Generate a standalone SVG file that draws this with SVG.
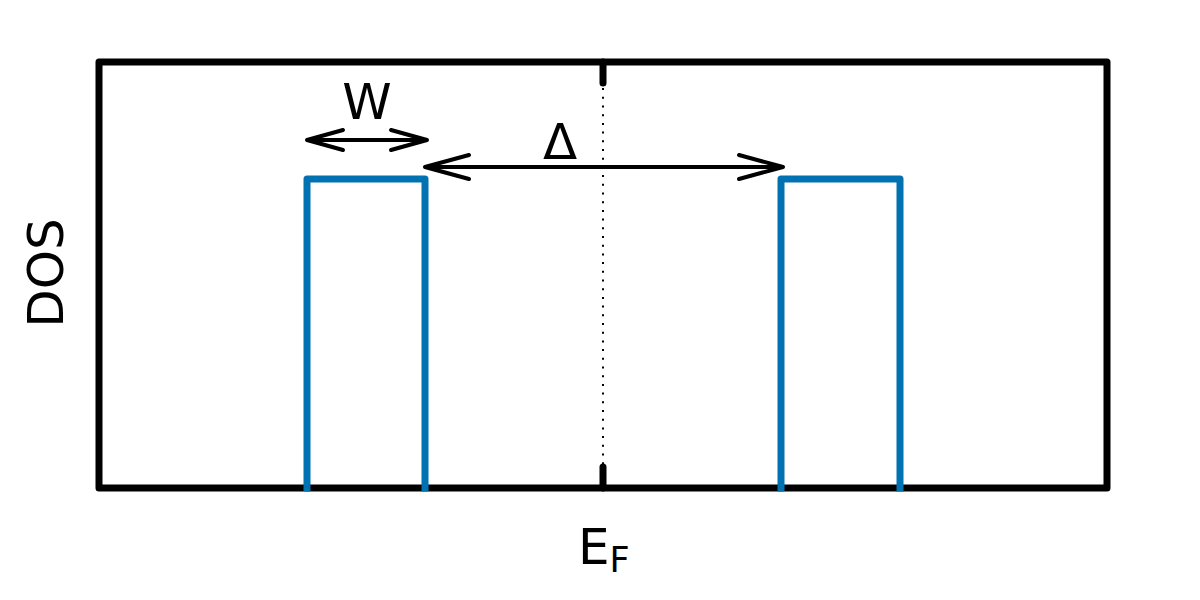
<svg xmlns="http://www.w3.org/2000/svg" width="1200" height="600" viewBox="0 0 1200 600">
<style>
.ax{fill:none;stroke:#000;stroke-width:7;stroke-linejoin:round;stroke-linecap:round}
.band{fill:none;stroke:#0072B2;stroke-width:7;stroke-linejoin:round;stroke-linecap:square}
.arr{fill:none;stroke:#000;stroke-width:4;stroke-linecap:round;stroke-linejoin:round}
.t{font-family:"DejaVu Sans",sans-serif;fill:#000}
</style>
<rect width="1200" height="600" fill="#fff"/>
<g id="frame">
<rect class="ax" x="99" y="62" width="1008" height="426"/>
<line class="ax" x1="603" y1="62" x2="603" y2="83"/>
<line class="ax" x1="603" y1="488" x2="603" y2="467"/>
<line x1="603" y1="62" x2="603" y2="488" stroke="#000" stroke-width="2" stroke-dasharray="2 6.7"/>
</g>
<g id="band-left"><polyline class="band" points="307,488 307,179 425,179 425,488"/></g>
<g id="band-right"><polyline class="band" points="781,488 781,179 900,179 900,488"/></g>
<g id="connectors">
<path class="arr" d="M307,140 H427 M343,130 L307,140 L343,150 M391,130 L427,140 L391,150"/>
<path class="arr" d="M425,167 H783 M469,155 L425,167 L469,179 M739,155 L783,167 L739,179"/>
</g>
<text class="t" x="367" y="119" font-size="50" text-anchor="middle">W</text>
<text class="t" x="560" y="159" font-size="50" text-anchor="middle">Δ</text>
<text class="t" x="578" y="564" font-size="50">E<tspan font-size="35" dy="8">F</tspan></text>
<text class="t" x="0" y="0" font-size="50" text-anchor="middle" transform="translate(63,273) rotate(-90)">DOS</text>
</svg>
